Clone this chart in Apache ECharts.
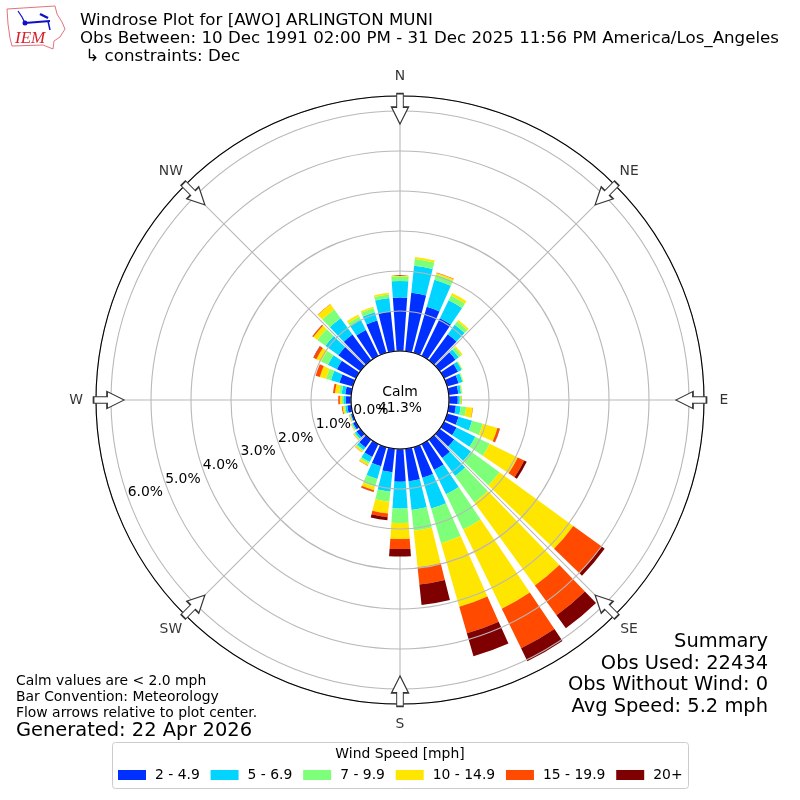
<!DOCTYPE html>
<html><head><meta charset="utf-8">
<style>html,body{margin:0;padding:0;background:#fff}#c{width:800px;height:800px}</style>
<script src="https://cdn.jsdelivr.net/npm/echarts@6/dist/echarts.min.js"></script>
</head><body><div id="c"></div>
<script>
const directions = ['0','10','20','30','40','50','60','70','80','90','100','110','120','130','140','150','160','170','180','190','200','210','220','230','240','250','260','270','280','290','300','310','320','330','340','350'];
const speed2to5   = [1.34,1.47,1.2,1.05,.81,.49,.39,.3,.24,.22,.18,.3,.35,.45,.57,.72,.8,.82,.82,.59,.5,.36,.24,.12,.08,.05,.1,.13,.15,.35,.53,.68,.8,.72,.84,1.0];
const speed5to7   = [.41,.68,.7,.5,.29,.1,.1,.1,.07,.05,.12,.35,.52,.52,.55,.68,.8,.72,.67,.49,.33,.14,.08,.05,.03,.02,.05,.06,.09,.22,.25,.4,.5,.29,.22,.34];
const speed7to10  = [.11,.17,.14,.13,.1,.08,.02,.02,.025,.03,.14,.28,.4,.88,.82,.98,.9,.52,.36,.25,.2,.05,.04,.025,.02,.01,.03,.04,.07,.13,.19,.25,.27,.08,.1,.09];
const speed10to15 = [.03,.05,.04,.07,.05,.04,.01,.01,.01,.02,.16,.38,.78,2.28,2.57,2.2,1.65,.92,.4,.3,.09,.05,.035,.02,.015,.02,.04,.05,.1,.16,.13,.12,.16,.06,.04,.04];
const speed15to20 = [0,0,.01,0,0,0,0,0,0,.005,.01,.06,.18,.88,.92,1.1,.69,.43,.25,.09,.04,.01,.005,.005,.005,.005,.02,.04,.05,.11,.08,.03,.01,0,0,0];
const speed20plus = [0,0,0,0,0,0,0,0,0,0,0,.005,.07,.09,.4,.36,.6,.52,.19,.08,.01,0,0,0,0,0,0,0,0,0,.01,.005,0,0,0,0];
const speedNames = ['2 - 4.9','5 - 6.9','7 - 9.9','10 - 14.9','15 - 19.9','20+'];
const speedColors = ['#0030ff','#00d4ff','#7dff7a','#ffe600','#ff4a00','#7f0000'];
const speedValues = [speed2to5,speed5to7,speed7to10,speed10to15,speed15to20,speed20plus];
const compass = ['N','NE','E','SE','S','SW','W','NW'];
const arrowAngles = [0,45,90,135,180,225,270,315];
const arrowRadius = 6.055;
const radiusMax = 6.375;
const titleLines = ['Windrose Plot for [AWO] ARLINGTON MUNI','Obs Between: 10 Dec 1991 02:00 PM - 31 Dec 2025 11:56 PM America/Los_Angeles',' ↳ constraints: Dec'];
const summaryLines = ['Summary','Obs Used: 22434','Obs Without Wind: 0','Avg Speed: 5.2 mph'];
const noteLines = ['Calm values are < 2.0 mph','Bar Convention: Meteorology','Flow arrows relative to plot center.'];
const font = '"DejaVu Sans"';

const txt = (x,y,text,size,align,extra) => Object.assign({type:'text',x,y,z:100,style:{text,fontFamily:font,fontSize:size,fill:'#000',textAlign:align||'left',textVerticalAlign:'middle'}},extra||{});
const graphics = [
  {type:'rect',z:1,shape:{x:112.5,y:742.5,width:576,height:46,r:3},style:{fill:'#fff',stroke:'#ccc',lineWidth:1}},
  txt(400,754,'Wind Speed [mph]',13.9,'center'),
  txt(400,392,'Calm',13.9,'center'),
  txt(400,408,'41.3%',13.9,'center'),
  txt(16,731,'Generated: 22 Apr 2026',19.44),
  // IEM logo
  {type:'polygon',z:50,shape:{points:[[7,9],[55,6],[57,14],[62,22],[65,29],[60,37],[54,41],[53,49],[43,45],[12,46],[10,38],[8,24]]},style:{fill:'#fff',stroke:'#e2747c',lineWidth:1}},
  {type:'polyline',z:51,shape:{points:[[25,23],[50,21]]},style:{stroke:'#1010c8',lineWidth:2,fill:'none'}},
  {type:'polyline',z:51,shape:{points:[[18,11],[22,17],[25,23]]},style:{stroke:'#1010c8',lineWidth:1.2,fill:'none'}},
  {type:'polyline',z:51,shape:{points:[[40,14],[48,18]]},style:{stroke:'#1010c8',lineWidth:2.5,fill:'none'}},
  {type:'polyline',z:51,shape:{points:[[48,21],[50,30]]},style:{stroke:'#1010c8',lineWidth:1.5,fill:'none'}},
  {type:'circle',z:51,shape:{cx:25,cy:23,r:2.5},style:{fill:'#1010c8'}},
  {type:'text',x:15,y:38.5,z:52,style:{text:'IEM',fontFamily:'"Liberation Serif"',fontStyle:'italic',fontSize:17,fill:'#d8202a',textVerticalAlign:'middle'}}
];
titleLines.forEach((t,i)=>graphics.push(txt(80,21+i*17.6,t,16.67)));
summaryLines.forEach((t,i)=>graphics.push(txt(768,642+i*21.7,t,19.44,'right')));
noteLines.forEach((t,i)=>graphics.push(txt(16,681+i*16,t,13.9)));

const barSeries = speedNames.map((name,i)=>({
  type:'bar',name,coordinateSystem:'polar',polarIndex:0,stack:'wind',barWidth:'80%',z:2,
  itemStyle:{color:speedColors[i]},data:speedValues[i],silent:true,animation:false
}));
const arrowPath = 'path://M8.5 30.5 L0 13.5 L5.2 13.5 L5.2 0 L11.8 0 L11.8 13.5 L17 13.5 Z';
const outline = (polarIndex)=>({polarIndex,type:'value',min:0,max:360,startAngle:90,z:4,
  axisLine:{show:true,lineStyle:{color:'#000',width:1.1}},axisTick:{show:false},axisLabel:{show:false},splitLine:{show:false}});
const hiddenRadius = (polarIndex)=>({polarIndex,type:'value',min:0,max:radiusMax,show:false});
const option = {
  animation:false,
  backgroundColor:'#fff',
  polar:[
    {center:[400,400],radius:[49,304]},
    {center:[400,400],radius:[49,304]},
    {center:[400,400],radius:[31,286]},
    {center:[400,400],radius:[69,324]},
    {center:[400,400],radius:[0,304]},
    {center:[400,400],radius:[0,49]}
  ],
  angleAxis:[
    {polarIndex:0,type:'category',data:directions,startAngle:95,show:false},
    {polarIndex:1,type:'value',min:0,max:360,interval:45,startAngle:90,z:0,
      axisLine:{show:false},axisTick:{show:false},axisLabel:{show:false},
      splitLine:{show:true,lineStyle:{color:'#b8b8b8',width:1.1}}},
    {polarIndex:2,type:'value',min:0,max:360,startAngle:200,show:false},
    {polarIndex:3,type:'value',min:0,max:360,startAngle:90,show:false},
    outline(4),
    outline(5)
  ],
  radiusAxis:[
    hiddenRadius(0),
    {polarIndex:1,type:'value',min:0,max:radiusMax,interval:1,z:3,
      axisLine:{show:false},axisTick:{show:false},axisLabel:{show:false},
      splitLine:{show:true,showMinLine:false,showMaxLine:false,lineStyle:{color:'#b8b8b8',width:1.1}}},
    {polarIndex:2,type:'value',min:0,max:radiusMax,interval:1,z:6,
      axisLine:{show:false},axisTick:{show:false},splitLine:{show:false},
      axisLabel:{show:true,margin:0,align:'center',verticalAlign:'middle',showMaxLabel:false,color:'#000',fontFamily:font,fontSize:13.9,
        formatter:v=>v.toFixed(1)+'%'}},
    hiddenRadius(3),
    hiddenRadius(4),
    hiddenRadius(5)
  ],
  legend:{left:118,top:768,itemWidth:28,itemHeight:10,itemGap:10.8,padding:0,icon:'rect',
    textStyle:{fontFamily:font,fontSize:13.9,color:'#000',padding:[0,0,0,4]},data:speedNames,selectedMode:false},
  graphic:graphics,
  series:barSeries.concat([{
    type:'scatter',coordinateSystem:'polar',polarIndex:1,z:5,silent:true,
    symbol:arrowPath,symbolSize:[17,30.5],symbolKeepAspect:false,
    symbolRotate:(v)=>-v[1],
    itemStyle:{color:'#fff',borderColor:'#333',borderWidth:1.3,opacity:1},
    data:arrowAngles.map(a=>[arrowRadius,a])
  },{
    type:'scatter',coordinateSystem:'polar',polarIndex:3,z:6,silent:true,
    symbol:'circle',symbolSize:1,itemStyle:{color:'transparent'},
    label:{show:true,position:'inside',formatter:'{b}',color:'#000',fontFamily:font,fontSize:13.9,align:'center',verticalAlign:'middle'},
    data:arrowAngles.map((a,i)=>({name:compass[i],value:[radiusMax,a]}))
  }])
};
echarts.init(document.getElementById('c'),null,{renderer:'canvas'}).setOption(option);
</script></body></html>
